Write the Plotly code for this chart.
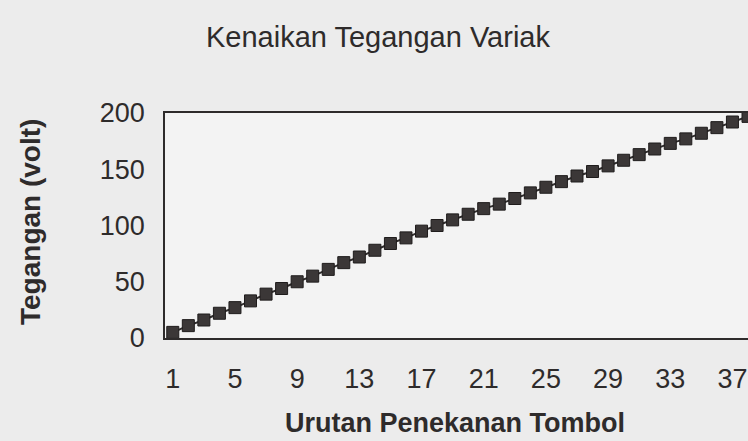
import plotly.graph_objects as go

# Data
presses = list(range(1, 39))
voltage = [5, 11, 16, 22, 27, 33, 39, 44, 50, 55, 61, 67, 72, 78, 84, 89, 95, 100,
           105, 110, 115, 119, 124, 129, 134, 139, 144, 148, 153, 158, 163, 168,
           173, 177, 182, 187, 192, 197]
x_ticks = [1, 5, 9, 13, 17, 21, 25, 29, 33, 37]
y_ticks = [0, 50, 100, 150, 200]

title_text = "Kenaikan Tegangan Variak"
x_title = "Urutan Penekanan Tombol"
y_title = "Tegangan (volt)"

FONT = "Liberation Sans, Arial, sans-serif"
INK = "#2e2b2b"
W, H = 748, 441
L, R, T, B = 165, 0, 113, 103

fig = go.Figure()
fig.add_trace(go.Scatter(
    x=presses, y=voltage, mode="lines+markers",
    line=dict(color=INK, width=2),
    marker=dict(symbol="square", size=12, color="#3b3737",
                line=dict(color="#1f1c1c", width=1)),
    showlegend=False,
))

fig.update_layout(
    width=W, height=H,
    margin=dict(l=L, r=R, t=T, b=B),
    paper_bgcolor="#ececec",
    plot_bgcolor="#f3f3f3",
    font=dict(family=FONT, color=INK),
    xaxis=dict(range=[0.5, 38.0], tickvals=x_ticks, ticktext=[str(v) for v in x_ticks],
               showgrid=False, zeroline=False, showline=True, mirror=True,
               linecolor=INK, linewidth=1.5, ticks="",
               tickfont=dict(size=27, family=FONT, color=INK), ticklabelstandoff=16),
    yaxis=dict(range=[0, 200], tickvals=y_ticks, showgrid=False, zeroline=False,
               showline=True, mirror=False, linecolor=INK, linewidth=1.5, ticks="",
               tickfont=dict(size=27, family=FONT, color=INK), ticklabelstandoff=13),
    annotations=[
        dict(text=title_text, xref="paper", yref="paper",
             x=(378 - L) / (W - L - R), y=1.0,
             xanchor="center", yanchor="middle", showarrow=False,
             font=dict(size=29, family=FONT, color=INK), yshift=T - 37),
        dict(text=f"<b>{x_title}</b>", xref="paper", yref="paper",
             x=(455 - L) / (W - L - R), y=0,
             xanchor="center", yanchor="middle", showarrow=False,
             font=dict(size=27, family=FONT, color=INK), yshift=-(423 - (H - B))),
        dict(text=f"<b>{y_title}</b>", xref="paper", yref="paper", x=0,
             y=(H - B - 222) / (H - T - B),
             xanchor="center", yanchor="middle", showarrow=False, textangle=-90,
             font=dict(size=28, family=FONT, color=INK), xshift=-(L - 30)),
    ],
)

fig.write_html("out.html", config={"displayModeBar": False},
               post_script="document.body.style.margin='0';document.body.style.overflow='hidden';")
